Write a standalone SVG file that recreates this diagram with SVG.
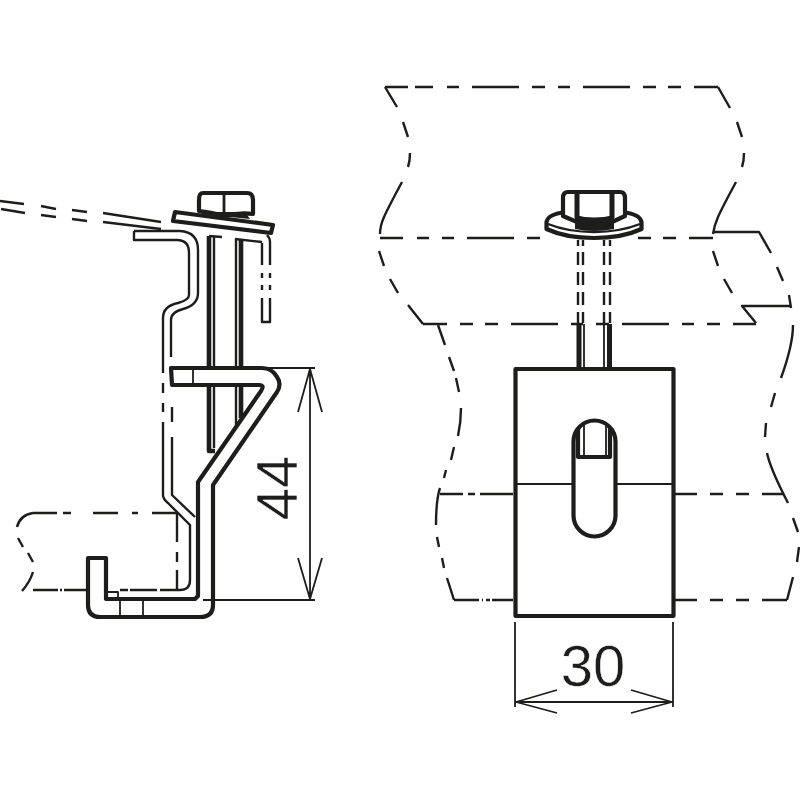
<svg xmlns="http://www.w3.org/2000/svg" width="800" height="800" viewBox="0 0 800 800">
<style>
path,line,rect,ellipse{fill:none;stroke:#1d1d1b;stroke-linejoin:round}
.h{stroke-width:2.4}
.t{stroke-width:1.8}
.k{stroke-width:4.2}
.w{fill:#fff}
.f{fill:#1d1d1b;stroke:none}
text{font-family:"Liberation Sans",Arial,sans-serif;fill:#1d1d1b;font-size:58px;stroke:#fff;stroke-width:.5px}
</style>
<rect x="0" y="0" width="800" height="800" style="fill:#fff;stroke:none"/>
<g id="connectors">
<path class="h" d="M0 201L24 204M41 206L56 209M72 210L87 212M103 213L161 222M1 209L25 213M41 215L56 217M72 219L87 221M103 222L161 229"/>
<path class="h" d="M33 513H57M63 513H71M93 513H118M132 513H138M152 513H177M33 513Q20 515 17 527M18 538L23 547M28 553L33 562M33 572Q30 582 22 591M33 590H58M60 590H62M64 590H87M120 590H128M130 590H157M160 590H180M177 513V542M177 552V562M177 570V590"/>
<path class="h" d="M385 87H408M415 87H433M447 87H459M472 87H519M532 87H545M558 87H570M583 87H630M643 87H656M668 87H681M694 87H718M385 87L397 107M403 122L408 137M410 153Q410 161 408 167M402 182Q388 208 384 217Q380 226 380 234M718 87L730 108M737 122L742 137M744 153Q744 161 742 167M736 182Q722 208 718 217Q714 226 713 234"/>
<path class="h" d="M380 238H403M417 238H429M442 238H454M467 238H514M527 238H540M638 238H651M663 238H676M689 238H713M713 232H759L771 253M777 267L783 281M789 295L791 308M791 306H742L756 323M379 251L384 266M390 279L398 293M408 305L423 324M713 251L718 266M724 279L732 293"/>
<path class="h" d="M423 324H447M460 324H473M485 324H498M511 324H558M571 324H583M596 324H609M622 324H669M682 324H694M707 324H720M733 324H756"/>
<path class="h" d="M793 325Q793 345 781 378M775 393L771 407M766 423L765 437M767 453Q770 468 788 503M793 518L798 532M799 547L797 562M793 577L787 600"/>
<path class="h" d="M438 325L445 345M449 357L454 371M456 378L459 392M461 408Q461 422 458 436M454 447L451 460M446 470L444 478M440 488Q436 500 436 525M437 537L439 547M442 558L444 568M447 578L454 600"/>
<path class="h" d="M440 494H463M468 494H475M480 494H513M675 494H697M710 494H723M736 494H749M762 494H783M454 600H479M482 600H483M486 600H490M492 600H513M675 600H697M710 600H723M736 600H749M762 600H787"/>
</g>
<g id="left-bracket">
<path class="h" d="M134 231H180Q198 232 198 250V293Q198 305 183 309Q171 312 171 320V357M134 231V240H177Q189 240 189 253V295Q189 300 178 303Q163 306 163 318V373"/>
<path class="h" d="M172 407V422M172 437V495L195 517M163 383V393M163 403V412M163 422V495Q163 499 168 503L190 525V580Q190 590 180 590"/>
<path class="k" d="M171 368H262Q272 368 277 377Q282 384 277 392L213 485V605Q213 617 200 617H100Q88 617 88 605V558H106V599H195L198 596V482L261 391Q265 385 259 385H172Z"/>
<path class="t" d="M193 368V385M120 600V616M143 600V616M108 592H118V599"/>
<path class="k" d="M209 236V367M209 387V451H215" style="stroke-width:4.6"/>
<path class="h" d="M214 236V367M214 387V448M236 239V367M236 387V425"/>
<path class="k" d="M241 239V367M241 387V418" style="stroke-width:4.6"/>
<path class="h" d="M209 236L222 237M235 239L262 242M262 243V265M262 273V278M262 285V290M262 298V322H270V298M270 290V285M270 278V273M270 265V242Q270 238 267 235"/>
</g>
<g id="left-bolt">
<path class="k w" d="M203 193H247Q253 193 253 200V214Q240 212 225 216Q210 212 199 211V200Q199 193 203 193Z"/>
<path class="k" d="M224 194V215" style="stroke-width:2.8"/>
<path class="f" d="M205 212H245L250 219L200 214Z"/>
<path class="k w" d="M175 212L273 225L271 233L173 221Z"/>
</g>
<g id="right-clamp">
<rect class="k" x="515.5" y="369" width="158" height="247"/>
<path class="t" d="M516 484H572M617 484H672"/>
<rect class="k w" x="573.5" y="420.5" width="42" height="116" rx="21" ry="21"/>
<path class="k" d="M578 428V457H610V428"/>
<path class="t" d="M584 423V456M606 423V456"/>
</g>
<g id="right-bolt">
<path class="k" d="M579 324V367M609.5 324V367" style="stroke-width:5"/>
<path class="t" d="M584 324V367M604 324V367"/>
<path class="h" d="M578 240V246M578 252V265M578 272V285M578 292V305M578 312V323M583 240V246M583 252V265M583 272V285M583 292V305M583 312V323M604 240V246M604 252V265M604 272V285M604 292V305M604 312V323M610 240V246M610 252V265M610 272V285M610 292V305M610 312V323"/>
<path class="k w" d="M546.5 222Q548 214 566 212H622Q640 214 641.5 222V229Q622 238 594 238Q566 238 546.5 229Z"/>
<path class="h" d="M548 224Q568 232 594 232Q620 232 640 224"/>
<path class="k w" d="M568 192H620Q625 192 625 198V216L612 222H577L563 216V198Q563 192 568 192Z"/>
<path class="f" d="M575 215Q594 220 614 215V229Q594 233 575 229Z"/>
<path class="k" d="M577 194V218M612 194V218" style="stroke-width:5"/>
</g>
<g id="dimension-44">
<path class="t" d="M267 368H315M203 600H315M310 368V600M298 412L310 369L322 412M298 558L310 599L322 558"/>
<text transform="translate(297 488) rotate(-90)" text-anchor="middle">44</text>
</g>
<g id="dimension-30">
<path class="t" d="M515 622V707M673 622V707M515 702H672M557 690L516 702L557 713M631 690L672 702L631 713"/>
<text x="593" y="686" text-anchor="middle">30</text>
</g>
</svg>
